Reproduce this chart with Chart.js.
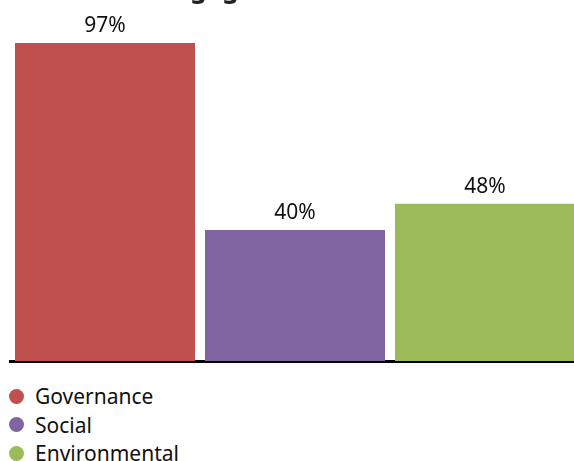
<!DOCTYPE html>
<html>
<head>
<meta charset="utf-8">
<script src="https://cdn.jsdelivr.net/npm/chart.js@4/dist/chart.umd.min.js"></script>
<style>
  body { margin: 0; overflow: hidden; background: #fff; width: 574px; height: 461px; position: relative; }
  #wrap { position: absolute; left: 0; top: -25px; width: 580px; height: 394px; }
  #legend { position: absolute; left: 9px; top: 382px; margin: 0; padding: 0; list-style: none;
            font-family: "Noto Sans", sans-serif; font-size: 21px; color: #111; }
  #legend li { height: 28.5px; display: flex; align-items: center; }
  #legend span.dot { width: 15px; height: 15px; border-radius: 50%; display: inline-block; margin-right: 11px; }
</style>
</head>
<body>
<div id="wrap"><canvas id="barChart" width="580" height="394"></canvas></div>
<ul id="legend"></ul>
<script>
var categories = ["Engagement"];
var seriesNames = ["Governance", "Social", "Environmental"];
var seriesValues = [[97], [40], [48]];
var seriesColors = ['#c0504d', '#8064a2', '#9bbb59'];

var valueLabels = {
	id: 'valueLabels',
	afterDatasetsDraw: function(chart) {
		var ctx = chart.ctx;
		ctx.save();
		ctx.font = '21px "Noto Sans", sans-serif';
		ctx.fillStyle = '#111';
		ctx.textAlign = 'center';
		ctx.textBaseline = 'alphabetic';
		chart.data.datasets.forEach(function(ds, i) {
			chart.getDatasetMeta(i).data.forEach(function(bar, j) {
				ctx.fillText(ds.data[j] + '%', bar.x, bar.y - 11);
			});
		});
		ctx.restore();
	}
};

var ctx = document.getElementById("barChart").getContext("2d");
var myChart = new Chart(ctx, {
	type: 'bar',
	data: {
		labels: categories,
		datasets: seriesNames.map(function(name, i) {
			return {
				label: name,
				data: seriesValues[i],
				backgroundColor: seriesColors[i],
				borderWidth: 0,
				barPercentage: 180 / 190,
				categoryPercentage: 1
			};
		})
	},
	options: {
		responsive: false,
		animation: false,
		layout: { padding: { left: 10, right: 0, top: 0, bottom: 0 } },
		plugins: {
			legend: { display: false },
			tooltip: { enabled: false },
			title: {
				display: true,
				text: 'Engagement Themes',
				color: '#222',
				font: { family: '"Noto Sans", sans-serif', size: 26, weight: 'bold' },
				padding: { top: 0, bottom: 27 }
			}
		},
		scales: {
			x: {
				ticks: { display: false },
				grid: { display: false },
				border: { color: '#000', width: 3 }
			},
			y: {
				display: false,
				min: 0,
				max: 100
			}
		}
	},
	plugins: [valueLabels]
});

// html legend built from the chart's own legend items
var items = myChart.options.plugins.legend.labels.generateLabels(myChart);
var ul = document.getElementById('legend');
items.forEach(function(item) {
	var li = document.createElement('li');
	var dot = document.createElement('span');
	dot.className = 'dot';
	dot.style.background = item.fillStyle;
	li.appendChild(dot);
	li.appendChild(document.createTextNode(item.text));
	ul.appendChild(li);
});
</script>
</body>
</html>
